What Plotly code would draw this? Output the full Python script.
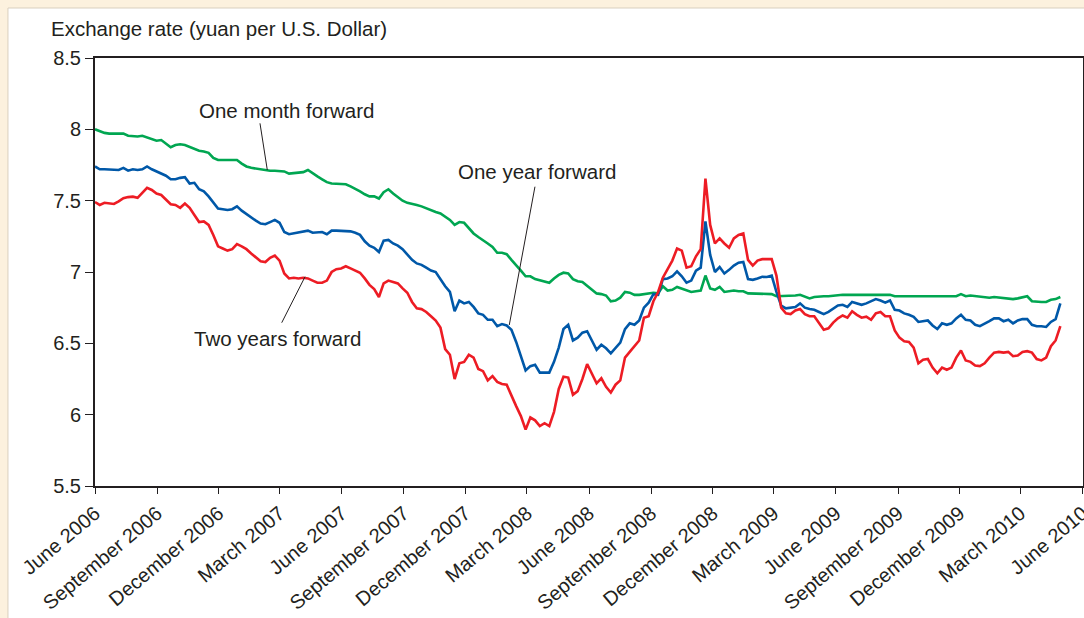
import pandas as pd
import plotly.graph_objects as go

# Weekly observation dates
dates = pd.date_range("2006-06-01", periods=205, freq="7D")

one_month = [
    8.00, 7.985, 7.975, 7.97, 7.97, 7.965, 7.97, 7.955, 7.95, 7.95,
    7.955, 7.945, 7.93, 7.92, 7.925, 7.90, 7.875, 7.89, 7.895, 7.89,
    7.875, 7.86, 7.85, 7.845, 7.835, 7.80, 7.785, 7.785, 7.785, 7.785,
    7.785, 7.76, 7.74, 7.73, 7.725, 7.715, 7.715, 7.71, 7.71, 7.71,
    7.705, 7.69, 7.695, 7.70, 7.70, 7.715, 7.69, 7.67, 7.65, 7.63,
    7.62, 7.62, 7.62, 7.615, 7.60, 7.585, 7.565, 7.545, 7.53, 7.53,
    7.515, 7.56, 7.58, 7.55, 7.525, 7.50, 7.485, 7.48, 7.47, 7.46,
    7.445, 7.43, 7.42, 7.41, 7.39, 7.365, 7.33, 7.35, 7.345, 7.31,
    7.27, 7.245, 7.225, 7.20, 7.175, 7.135, 7.135, 7.125, 7.085, 7.05,
    7.01, 6.97, 6.97, 6.95, 6.94, 6.93, 6.925, 6.955, 6.98, 6.995,
    6.99, 6.95, 6.935, 6.93, 6.905, 6.88, 6.85, 6.845, 6.835, 6.795,
    6.80, 6.82, 6.86, 6.855, 6.84, 6.84, 6.845, 6.85, 6.855, 6.85,
    6.90, 6.87, 6.875, 6.895, 6.885, 6.87, 6.86, 6.865, 6.87, 6.975,
    6.885, 6.875, 6.895, 6.86, 6.865, 6.87, 6.865, 6.865, 6.85, 6.85,
    6.85, 6.85, 6.85, 6.845, 6.83, 6.83, 6.83, 6.835, 6.835, 6.84,
    6.825, 6.815, 6.825, 6.83, 6.83, 6.83, 6.835, 6.84, 6.84, 6.84,
    6.84, 6.84, 6.84, 6.84, 6.84, 6.84, 6.84, 6.84, 6.84, 6.83,
    6.83, 6.83, 6.83, 6.83, 6.83, 6.83, 6.83, 6.83, 6.83, 6.83,
    6.83, 6.83, 6.83, 6.845, 6.83, 6.835, 6.83, 6.825, 6.82, 6.82,
    6.825, 6.82, 6.815, 6.815, 6.81, 6.815, 6.825, 6.83, 6.795, 6.79,
    6.79, 6.79, 6.805, 6.81, 6.825,
]

one_year = [
    7.74, 7.72, 7.72, 7.72, 7.715, 7.715, 7.73, 7.71, 7.72, 7.715,
    7.72, 7.74, 7.72, 7.705, 7.69, 7.675, 7.65, 7.65, 7.66, 7.665,
    7.62, 7.625, 7.58, 7.565, 7.53, 7.49, 7.445, 7.44, 7.435, 7.44,
    7.46, 7.43, 7.405, 7.38, 7.36, 7.34, 7.335, 7.35, 7.365, 7.345,
    7.28, 7.265, 7.27, 7.28, 7.285, 7.29, 7.275, 7.28, 7.28, 7.265,
    7.29, 7.29, 7.29, 7.29, 7.285, 7.275, 7.26, 7.215, 7.185, 7.17,
    7.14, 7.22, 7.225, 7.20, 7.185, 7.16, 7.12, 7.085, 7.06, 7.05,
    7.03, 7.01, 7.00, 6.95, 6.90, 6.86, 6.725, 6.80, 6.78, 6.79,
    6.755, 6.71, 6.70, 6.665, 6.665, 6.62, 6.635, 6.625, 6.595, 6.51,
    6.41, 6.31, 6.34, 6.35, 6.295, 6.295, 6.295, 6.37, 6.47, 6.60,
    6.63, 6.52, 6.54, 6.575, 6.585, 6.52, 6.455, 6.49, 6.465, 6.43,
    6.47, 6.505, 6.60, 6.64, 6.63, 6.66, 6.75, 6.785, 6.845, 6.84,
    6.95, 6.955, 6.97, 7.005, 6.97, 6.925, 6.94, 7.01, 7.03, 7.355,
    7.12, 7.00, 7.035, 6.99, 7.015, 7.045, 7.065, 7.07, 6.95, 6.945,
    6.955, 6.967, 6.965, 6.975, 6.86, 6.765, 6.745, 6.75, 6.755, 6.78,
    6.75, 6.74, 6.735, 6.72, 6.705, 6.72, 6.745, 6.765, 6.77, 6.755,
    6.79, 6.78, 6.77, 6.78, 6.795, 6.81, 6.80, 6.785, 6.80, 6.735,
    6.73, 6.71, 6.70, 6.685, 6.65, 6.655, 6.66, 6.625, 6.60, 6.64,
    6.63, 6.64, 6.675, 6.70, 6.665, 6.66, 6.63, 6.62, 6.635, 6.655,
    6.675, 6.675, 6.655, 6.665, 6.64, 6.66, 6.67, 6.67, 6.63, 6.62,
    6.62, 6.615, 6.65, 6.67, 6.78,
]

two_years = [
    7.49, 7.47, 7.485, 7.48, 7.477, 7.495, 7.517, 7.525, 7.528, 7.52,
    7.555, 7.59, 7.575, 7.55, 7.54, 7.51, 7.475, 7.47, 7.45, 7.48,
    7.45, 7.40, 7.35, 7.355, 7.33, 7.26, 7.18, 7.165, 7.15, 7.16,
    7.195, 7.18, 7.16, 7.13, 7.105, 7.075, 7.07, 7.10, 7.115, 7.08,
    6.99, 6.955, 6.96, 6.955, 6.96, 6.955, 6.94, 6.925, 6.925, 6.94,
    7.00, 7.02, 7.025, 7.04, 7.025, 7.01, 6.995, 6.955, 6.91, 6.88,
    6.825, 6.92, 6.94, 6.93, 6.92, 6.885, 6.855, 6.79, 6.745, 6.74,
    6.72, 6.69, 6.66, 6.61, 6.46, 6.42, 6.25, 6.36, 6.37, 6.42,
    6.40, 6.32, 6.305, 6.24, 6.27, 6.23, 6.215, 6.21, 6.13, 6.06,
    5.99, 5.895, 5.98, 5.96, 5.92, 5.94, 5.92, 6.02, 6.18, 6.266,
    6.26, 6.14, 6.165, 6.25, 6.355, 6.29, 6.22, 6.255, 6.195, 6.155,
    6.21, 6.24, 6.40, 6.44, 6.48, 6.52, 6.68, 6.69, 6.795, 6.86,
    6.96, 7.025, 7.08, 7.165, 7.15, 7.03, 7.04, 7.11, 7.16, 7.655,
    7.33, 7.20, 7.235, 7.20, 7.17, 7.235, 7.26, 7.27, 7.085, 7.045,
    7.08, 7.09, 7.09, 7.09, 6.975, 6.75, 6.71, 6.705, 6.73, 6.74,
    6.705, 6.69, 6.69, 6.64, 6.595, 6.605, 6.645, 6.675, 6.695, 6.68,
    6.725, 6.70, 6.68, 6.687, 6.665, 6.71, 6.72, 6.69, 6.69, 6.59,
    6.54, 6.515, 6.51, 6.47, 6.36, 6.385, 6.39, 6.33, 6.29, 6.33,
    6.315, 6.33, 6.40, 6.45, 6.38, 6.37, 6.345, 6.34, 6.36, 6.40,
    6.435, 6.44, 6.435, 6.44, 6.41, 6.415, 6.44, 6.445, 6.435, 6.39,
    6.38, 6.40, 6.48, 6.52, 6.62,
]

tick_dates = [
    "2006-06-01", "2006-09-01", "2006-12-01", "2007-03-01", "2007-06-01",
    "2007-09-01", "2007-12-01", "2008-03-01", "2008-06-01", "2008-09-01",
    "2008-12-01", "2009-03-01", "2009-06-01", "2009-09-01", "2009-12-01",
    "2010-03-01", "2010-06-01",
]
tick_labels = [
    "June 2006", "September 2006", "December 2006", "March 2007", "June 2007",
    "September 2007", "December 2007", "March 2008", "June 2008",
    "September 2008", "December 2008", "March 2009", "June 2009",
    "September 2009", "December 2009", "March 2010", "June 2010",
]
y_ticks = [5.5, 6, 6.5, 7, 7.5, 8, 8.5]
y_labels = ["5.5", "6", "6.5", "7", "7.5", "8", "8.5"]

FONT = "Liberation Sans, Arial, Helvetica, sans-serif"
TXT = "#231F20"
FS = 20.5

fig = go.Figure()
fig.add_trace(go.Scatter(x=dates, y=one_month, mode="lines", name="One month forward",
                         line=dict(color="#00A651", width=2.6)))
fig.add_trace(go.Scatter(x=dates, y=one_year, mode="lines", name="One year forward",
                         line=dict(color="#0058A8", width=2.6)))
fig.add_trace(go.Scatter(x=dates, y=two_years, mode="lines", name="Two years forward",
                         line=dict(color="#ED1C24", width=2.6)))

shapes = [
    # white panel on beige page
    dict(type="rect", xref="paper", yref="paper", x0=-0.0881, x1=1.05, y0=-0.40, y1=1.1168,
         fillcolor="white", line=dict(color="#d9cfbf", width=1), layer="below"),
    # leader lines
    dict(type="line", xref="paper", yref="paper", x0=0.1670, y0=0.8474, x1=0.1744, y1=0.7383,
         line=dict(color=TXT, width=1)),
    dict(type="line", xref="paper", yref="paper", x0=0.4453, y0=0.6993, x1=0.4193, y1=0.3762,
         line=dict(color=TXT, width=1)),
    dict(type="line", xref="paper", yref="paper", x0=0.1890, y0=0.3815, x1=0.2126, y1=0.4890,
         line=dict(color=TXT, width=1)),
]

annotations = [
    dict(text="Exchange rate (yuan per U.S. Dollar)", xref="paper", yref="paper",
         x=-0.0466, y=1.070, xanchor="left", yanchor="middle", showarrow=False,
         font=dict(size=FS, color=TXT, family=FONT)),
    dict(text="One month forward", xref="paper", yref="paper", x=0.1943, y=0.8785,
         xanchor="center", yanchor="middle", showarrow=False,
         font=dict(size=FS, color=TXT, family=FONT)),
    dict(text="One year forward", xref="paper", yref="paper", x=0.4474, y=0.7348,
         xanchor="center", yanchor="middle", showarrow=False,
         font=dict(size=FS, color=TXT, family=FONT)),
    dict(text="Two years forward", xref="paper", yref="paper", x=0.1847, y=0.3446,
         xanchor="center", yanchor="middle", showarrow=False,
         font=dict(size=FS, color=TXT, family=FONT)),
]

fig.update_layout(
    width=1084, height=618,
    margin=dict(l=95, r=1, t=58, b=132),
    paper_bgcolor="#FCF1DE",
    plot_bgcolor="white",
    showlegend=False,
    font=dict(family=FONT, size=FS, color=TXT),
    shapes=shapes,
    annotations=annotations,
    xaxis=dict(
        type="date", range=["2006-06-01", "2010-06-01 12:00"],
        tickmode="array", tickvals=tick_dates, ticktext=tick_labels,
        tickangle=-40, ticks="outside", ticklen=6, tickwidth=1.2, tickcolor=TXT,
        showline=True, linecolor=TXT, linewidth=2, mirror=True,
        showgrid=False, zeroline=False, automargin=False,
        ticklabeloverflow="allow",
        tickfont=dict(size=20, color=TXT, family=FONT),
    ),
    yaxis=dict(
        range=[5.5, 8.5], tickmode="array", tickvals=y_ticks, ticktext=y_labels,
        ticks="outside", ticklen=8, tickwidth=1.2, tickcolor=TXT,
        showline=True, linecolor=TXT, linewidth=2, mirror=True,
        showgrid=False, zeroline=False, automargin=False,
        tickfont=dict(size=20, color=TXT, family=FONT),
    ),
)

fig.write_html(
    "out.html",
    config={"displayModeBar": False},
    post_script="document.body.style.margin='0';document.body.style.overflow='hidden';",
)
